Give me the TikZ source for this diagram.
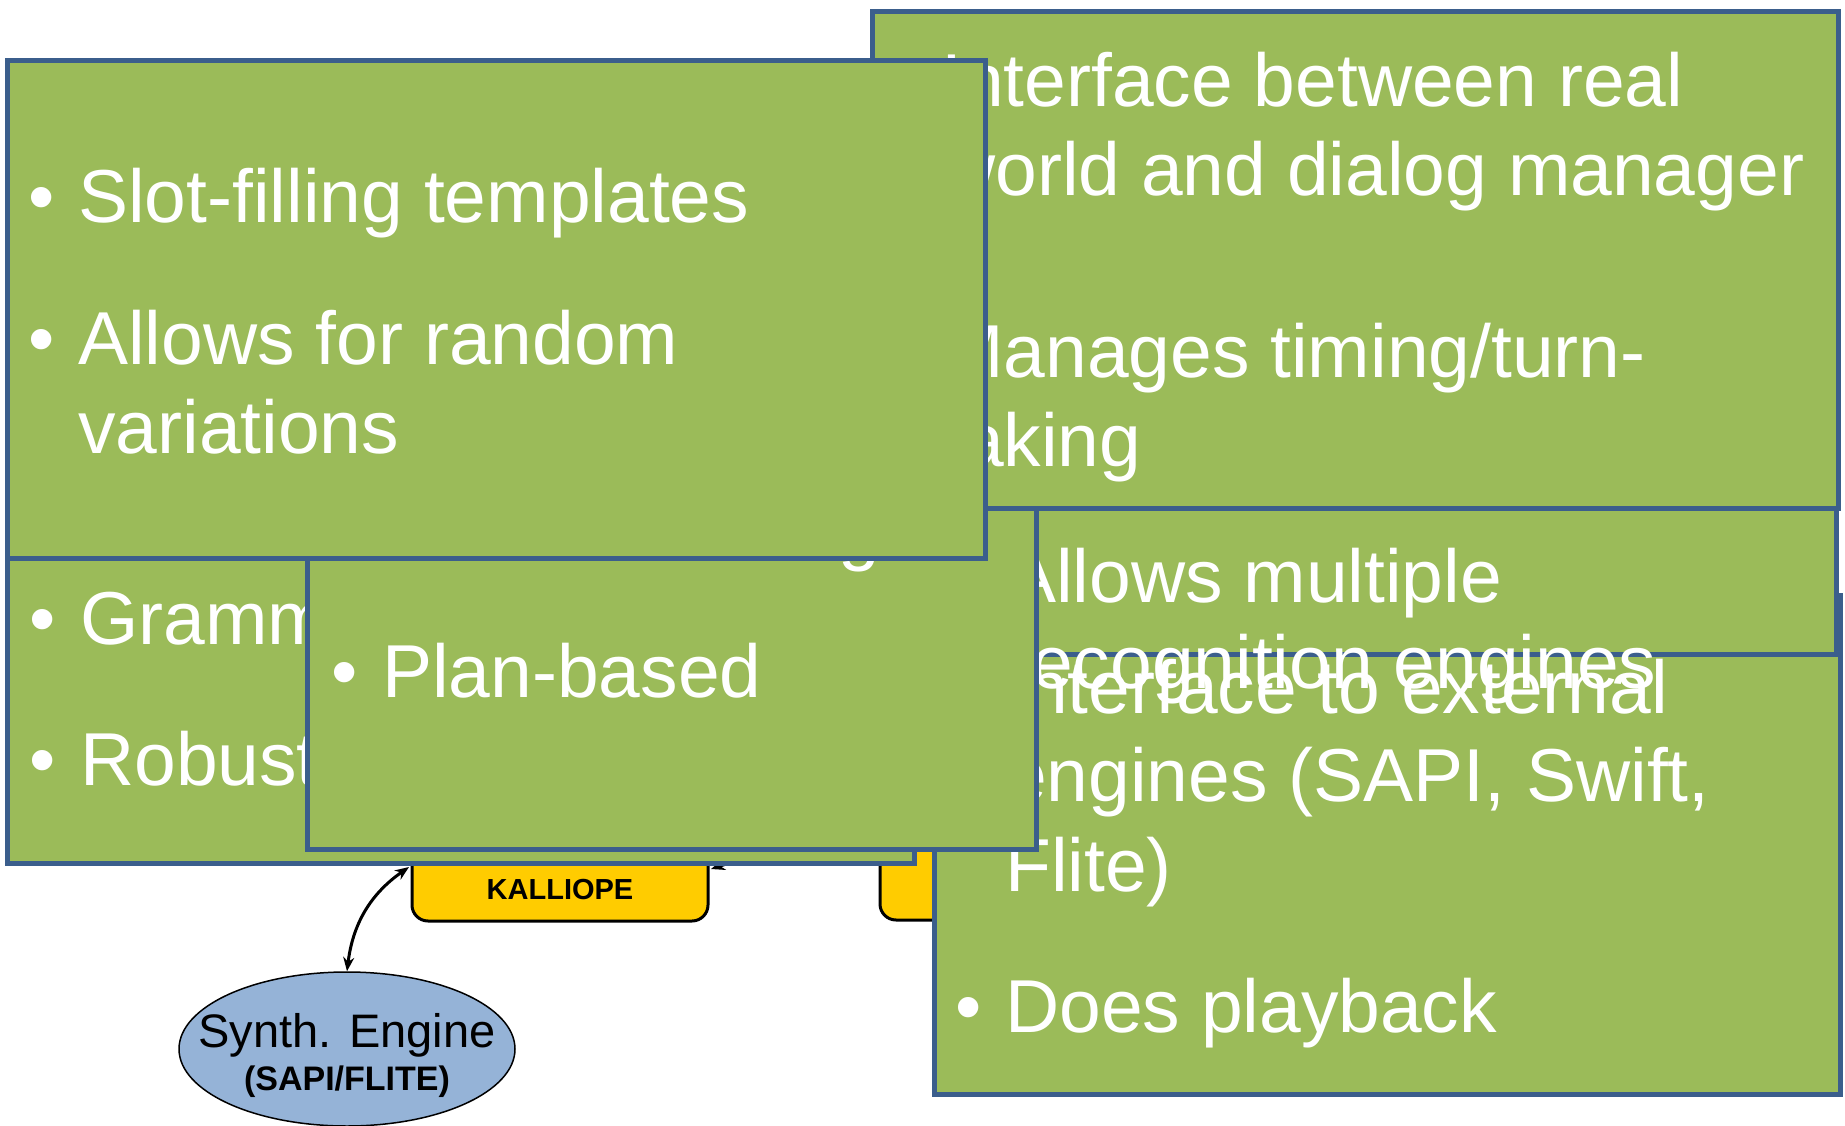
\documentclass[tikz,border=0pt]{standalone}
\usepackage{fontspec}
\setmainfont{Liberation Sans}
\usetikzlibrary{arrows.meta,fit,shapes.geometric}

\definecolor{panelgreen}{HTML}{9BBB59}
\definecolor{paneledge}{HTML}{3B5E8C}
\definecolor{modyellow}{HTML}{FFCC00}
\definecolor{engineblue}{HTML}{95B3D7}

\tikzset{
  panel/.style={draw=paneledge, fill=panelgreen, line width=5pt, inner sep=0pt},
  bodytext/.style={anchor=base west, inner sep=0pt, text=white,
                   font=\fontsize{75}{89}\selectfont},
  modbox/.style={draw=black, fill=modyellow, line width=3pt,
                 rounded corners=16pt, inner sep=0pt},
  modlabel/.style={anchor=base, inner sep=0pt,
                   font=\bfseries\fontsize{29}{34}\selectfont},
  engine/.style={ellipse, draw=black, fill=engineblue, line width=1.5pt,
                 inner sep=0pt},
  link/.style={draw=black, line width=3pt},
  tip/.style={-{Stealth[length=14pt,width=11pt]}},
  bothtips/.style={{Stealth[length=14pt,width=11pt]}-{Stealth[length=14pt,width=11pt]}}
}

\begin{document}
\begin{tikzpicture}[x=1pt, y=-1pt]
\useasboundingbox (0,0) rectangle (1845,1126);
\fill[white] (0,0) rectangle (1845,1126);

% yellow module boxes
\node[modbox, fit={(412,790) (708,921)}] (kalliope) {};
\node[modlabel] (kallabel) at (560,899) {KALLIOPE};
\node[modbox, fit={(880,790) (1100,920)}] (audiomod) {};

% synthesis engine
\node[engine, minimum width=336pt, minimum height=154pt] (synth) at (347,1049) {};
\node[anchor=base, inner sep=0pt, font=\fontsize{47}{56}\selectfont] (synthname) at (347,1047) {Synth. Engine};
\node[anchor=base, inner sep=0pt, font=\bfseries\fontsize{34}{40}\selectfont] (synthkind) at (347,1090) {(SAPI/FLITE)};

% connectors
\coordinate (kalleft) at (409,867);
\coordinate (kalright) at (711,869);
\coordinate (kalfar) at (790,830);
\draw[link, bothtips] (synth.north) to[out=83, in=215] (kalleft);
\draw[link, tip] (kalfar) to[out=210, in=18] (kalright);

% parser panel
\node[panel, fit={(7,480) (914,863)}] (parserpanel) {};
\node[bodytext] (parserb1) at (29,644) {\textbullet};
\node[bodytext] (parsert1) at (80,644) {Grammar};
\node[bodytext] (parserb2) at (29,785) {\textbullet};
\node[bodytext] (parsert2) at (80,785) {Robust};

% audio server panel
\node[panel, fit={(934,595) (1840,1094)}] (audiopanel) {};
\node[bodytext] (audiob1) at (955,713) {\textbullet};
\node[bodytext] (audiot1) at (1005,713) {Interface to external};
\node[bodytext] (audiot2) at (1005,801) {engines (SAPI, Swift,};
\node[bodytext] (audiot3) at (1005,891) {Flite)};
\node[bodytext] (audiob2) at (955,1032) {\textbullet};
\node[bodytext] (audiot4) at (1005,1032) {Does playback};

% recognition panel
\node[panel, fit={(934,508) (1836,654)}] (recogpanel) {};
\node[bodytext] (recogb1) at (956,602) {\textbullet};
\node[bodytext] (recogt1) at (1006,602) {Allows multiple};
\node[bodytext] (recogt2) at (1006,688) {recognition engines};

% dialog manager panel
\node[panel, fit={(307,480) (1036,849)}] (dmpanel) {};
\node[bodytext] (dmg) at (838,556) {g};
\node[bodytext] (dmb1) at (331,697) {\textbullet};
\node[bodytext] (dmt1) at (382,697) {Plan-based};

% interaction manager panel
\node[panel, fit={(872,12) (1838,508)}] (impanel) {};
\node[bodytext] (imb1) at (890,107) {\textbullet};
\node[bodytext] (imt1) at (941,107) {Interface between real};
\node[bodytext] (imt2) at (941,196) {world and dialog manager};
\node[bodytext] (imb2) at (890,377) {\textbullet};
\node[bodytext] (imt3) at (941,377) {Manages timing/turn-};
\node[bodytext] (imt4) at (941,466) {taking};

% language generation panel
\node[panel, fit={(7,61) (985,558)}] (nlgpanel) {};
\node[bodytext] (nlgb1) at (28,223) {\textbullet};
\node[bodytext] (nlgt1) at (78,223) {Slot-filling templates};
\node[bodytext] (nlgb2) at (28,364) {\textbullet};
\node[bodytext] (nlgt2) at (78,364) {Allows for random};
\node[bodytext] (nlgt3) at (78,453) {variations};
\end{tikzpicture}
\end{document}
